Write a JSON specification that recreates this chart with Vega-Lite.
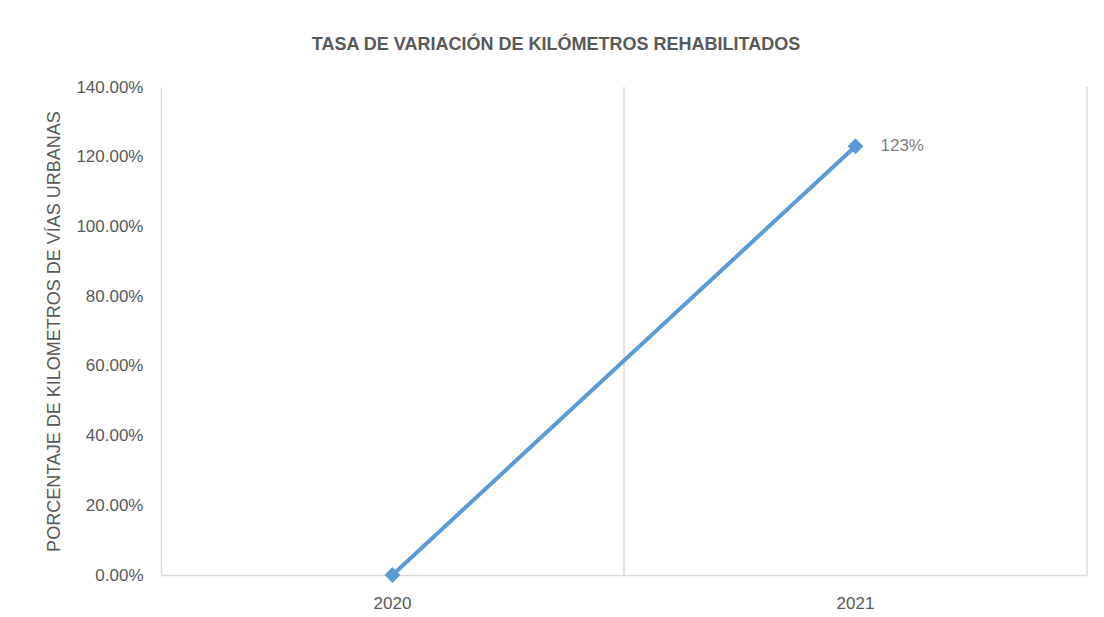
{
  "$schema": "https://vega.github.io/schema/vega-lite/v6.json",
  "width": 926,
  "height": 488,
  "autosize": {"type": "none"},
  "padding": {"left": 161, "top": 87, "right": 17, "bottom": 42},
  "background": "white",
  "config": {"view": {"stroke": null}, "font": "Liberation Sans"},
  "title": {
    "text": "TASA DE VARIACIÓN DE KILÓMETROS REHABILITADOS",
    "fontSize": 18,
    "fontWeight": "bold",
    "color": "#595959",
    "anchor": "middle",
    "dx": -68,
    "offset": 10,
    "baseline": "alphabetic"
  },
  "data": {
    "values": [
      {"year": "2020", "value": 0, "label": ""},
      {"year": "2021", "value": 1.23, "label": "123%"}
    ]
  },
  "encoding": {
    "x": {
      "field": "year",
      "type": "nominal",
      "scale": {"type": "band", "paddingInner": 0, "paddingOuter": 0},
      "axis": {
        "title": null,
        "labelAngle": 0,
        "ticks": false,
        "grid": false,
        "domainColor": "#d9d9d9",
        "domainWidth": 1.5,
        "labelColor": "#595959",
        "labelFontSize": 17,
        "labelPadding": 20
      }
    }
  },
  "layer": [
    {
      "mark": {"type": "rule", "color": "#d9d9d9", "strokeWidth": 1.5},
      "encoding": {
        "x": {"field": "year", "type": "nominal", "bandPosition": 1}
      }
    },
    {
      "mark": {
        "type": "line",
        "color": "#5b9bd5",
        "strokeWidth": 4,
        "point": {"shape": "diamond", "size": 250, "filled": true, "color": "#5b9bd5", "opacity": 1}
      },
      "encoding": {
        "x": {"field": "year", "type": "nominal", "bandPosition": 0.5},
        "y": {
          "field": "value",
          "type": "quantitative",
          "scale": {"domain": [0, 1.4]},
          "axis": {
            "format": ".2%",
            "values": [0, 0.2, 0.4, 0.6, 0.8, 1.0, 1.2, 1.4],
            "grid": false,
            "ticks": false,
            "domainColor": "#d9d9d9",
            "domainWidth": 1.5,
            "labelColor": "#595959",
            "labelFontSize": 17,
            "labelPadding": 18,
            "title": "PORCENTAJE DE KILOMETROS DE VÍAS URBANAS",
            "titleX": -107,
            "titleY": 244,
            "titleAngle": 270,
            "titleAlign": "center",
            "titleBaseline": "middle",
            "titleFontWeight": "normal",
            "titleFontSize": 18,
            "titleColor": "#595959"
          }
        }
      }
    },
    {
      "mark": {"type": "text", "align": "left", "baseline": "middle", "dx": 25, "color": "#7f7f7f", "fontSize": 17},
      "encoding": {
        "x": {"field": "year", "type": "nominal", "bandPosition": 0.5},
        "y": {"field": "value", "type": "quantitative"},
        "text": {"field": "label"}
      }
    }
  ]
}
